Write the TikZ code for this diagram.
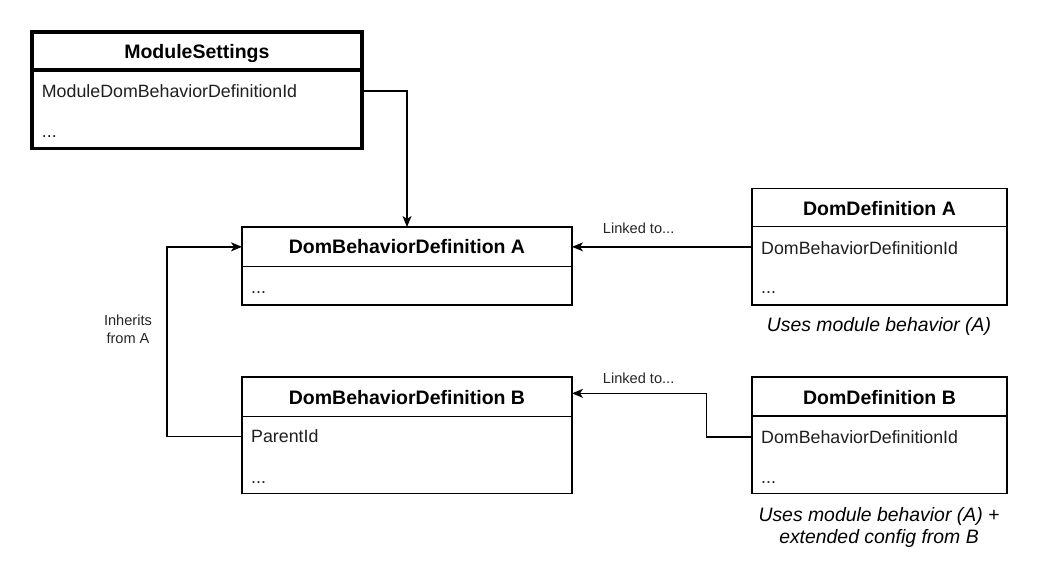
\documentclass[tikz,border=0pt]{standalone}
\usepackage{fontspec}
\setmainfont{Liberation Sans}
\usetikzlibrary{arrows.meta,calc}
\begin{document}
\begin{tikzpicture}[x=1pt,y=-1pt,
 box/.style={draw=black,line width=1.3pt,inner sep=0pt,outer sep=0pt,anchor=north west},
 thickbox/.style={box,line width=3.6pt},
 title/.style={anchor=base,inner sep=0pt,font=\fontsize{19.5}{23}\selectfont\bfseries},
 row/.style={anchor=base west,inner sep=0pt,font=\fontsize{17.8}{21}\selectfont,text=black!88},
 lbl/.style={inner sep=0pt,align=center,font=\fontsize{14.6}{18.3}\selectfont,text=black!85},
 note/.style={inner sep=0pt,align=center,font=\fontsize{19.4}{21.6}\selectfont\itshape},
 conn/.style={draw=black,line width=1.3pt,-{Stealth[length=11pt,width=9pt,inset=3pt]}}]
\useasboundingbox[fill=white] (0,0) rectangle (1038,588);

% ModuleSettings
\node[thickbox,minimum width=329.7pt,minimum height=38pt] (msh) at (32,32) {};
\node[thickbox,minimum width=329.7pt,minimum height=78.7pt] (msb) at (32,70) {};
\node[title] (msT) at (196.85,58.3) {ModuleSettings};
\node[row] (msid) at (41.7,97.5) {ModuleDomBehaviorDefinitionId};
\node[row] (msdots) at (41.7,137.3) {...};

% DomBehaviorDefinition A
\node[box,minimum width=330pt,minimum height=39.7pt] (dbdAh) at (242,227) {};
\node[box,minimum width=330pt,minimum height=38.3pt] (dbdAb) at (242,266.7) {};
\node[title] (dbdAT) at (407,253.3) {DomBehaviorDefinition A};
\node[row] (dbdAdots) at (251,293.3) {...};

% DomBehaviorDefinition B
\node[box,minimum width=330pt,minimum height=39.3pt] (dbdBh) at (242,377) {};
\node[box,minimum width=330pt,minimum height=77.2pt] (dbdBb) at (242,416.3) {};
\node[title] (dbdBT) at (407,404.3) {DomBehaviorDefinition B};
\node[row] (pid) at (251,442.9) {ParentId};
\node[row] (dbdBdots) at (251,483) {...};

% DomDefinition A
\node[box,minimum width=255pt,minimum height=38.2pt] (ddAh) at (752,188.5) {};
\node[box,minimum width=255pt,minimum height=78.3pt] (ddAb) at (752,226.7) {};
\node[title] (ddAT) at (879.5,215) {DomDefinition A};
\node[row] (ddAid) at (761,254) {DomBehaviorDefinitionId};
\node[row] (ddAdots) at (761,293.3) {...};
\node[note,anchor=base] (noteA) at (879,331.7) {Uses module behavior (A)};

% DomDefinition B
\node[box,minimum width=255pt,minimum height=39pt] (ddBh) at (752,377) {};
\node[box,minimum width=255pt,minimum height=77.5pt] (ddBb) at (752,416) {};
\node[title] (ddBT) at (879.5,404) {DomDefinition B};
\node[row] (ddBid) at (761,443.3) {DomBehaviorDefinitionId};
\node[row] (ddBdots) at (761,483) {...};
\node[note,anchor=base] (noteB1) at (879,521.7) {Uses module behavior (A) +};
\node[note,anchor=base] (noteB2) at (879,543.3) {extended config from B};

% connectors
\draw[conn] (msb.east |- msid) -| (dbdAh.north);
\draw[conn] (ddAb.west |- dbdAh.east) -- (dbdAh.east);
\node[lbl,anchor=base west] (lnkA) at (602.7,233.3) {Linked to...};

\coordinate (bIn) at ($(dbdBh.east)+(0,-3.3)$);
\draw[conn] (ddBb.west |- ddBid) -- ++(-45.3,0) |- (bIn);
\node[lbl,anchor=base west] (lnkB) at (602.7,383.3) {Linked to...};

\draw[conn] (dbdBb.west |- pid) -- ++(-75,0) |- (dbdAh.west);
\node[lbl,anchor=base] (inh1) at (128,325) {Inherits};
\node[lbl,anchor=base] (inh2) at (128,343.3) {from A};
\end{tikzpicture}
\end{document}
